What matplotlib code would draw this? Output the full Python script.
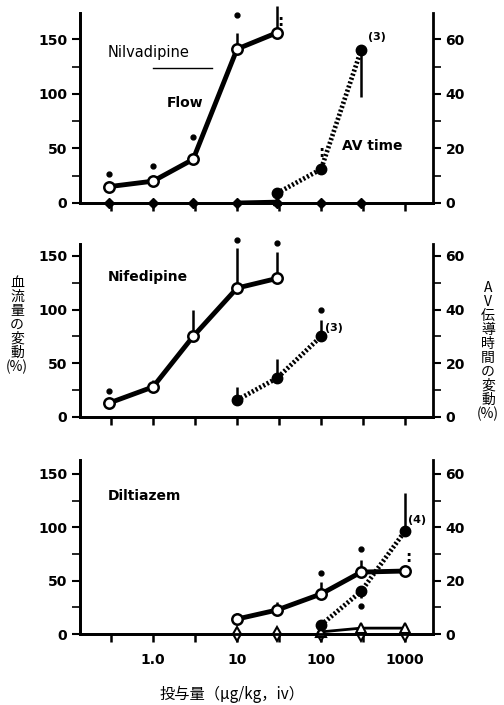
import matplotlib
matplotlib.use("Agg")
import matplotlib.pyplot as plt
from matplotlib.ticker import FixedLocator
import numpy as np

# ---------------- data ----------------
# dose ticks (half-decades) and labels
dose_ticks = [0.316, 1, 3.16, 10, 31.6, 100, 316, 1000]
dose_labels = ["", "1.0", "", "10", "", "100", "", "1000"]

# Panel 1: Nilvadipine
nil_flow_x = [0.3, 1, 3, 10, 30]
nil_flow_y = [15, 20, 40, 141, 156]
nil_flow_err = [0, 0, 0, 15, 24]
nil_flow_sig = [27, 34, 60, 172, np.nan]
nil_av_x = [30, 100, 300]
nil_av_y = [3.6, 12.4, 56]
nil_av_err = [0, 0, -17]
nil_base_x = [0.3, 1, 3, 10, 30, 100, 300]
nil_base_y = [0, 0, 0, 0, 0, 0, 0]
nil_hr_x = [10, 30]
nil_hr_y = [0.8, 1.6]

# Panel 2: Nifedipine
nif_flow_x = [0.3, 1, 3, 10, 30]
nif_flow_y = [13, 28, 75, 120, 129]
nif_flow_err = [0, 6, 25, 37, 25]
nif_flow_sig = [24, np.nan, np.nan, 165, 162]
nif_av_x = [10, 30, 100]
nif_av_y = [6.3, 14.5, 30]
nif_av_err = [4.7, 7.1, 6]
nif_av_sig = [np.nan, np.nan, 40]

# Panel 3: Diltiazem
dil_flow_x = [10, 30, 100, 300, 1000]
dil_flow_y = [14, 22.5, 37.5, 58, 59]
dil_flow_err = [6, 7.5, 11.5, 11, 0]
dil_flow_sig = [np.nan, np.nan, 57, 80, np.nan]
dil_av_x = [100, 300, 1000]
dil_av_y = [3.4, 16, 38.6]
dil_av_err = [0, -2.4, 14.4]
dil_av_sig = [np.nan, 10.4, np.nan]
dil_base_x = [10, 30, 100, 300, 1000]
dil_base_y = [0, 0, 0, 0, 0]
dil_tri_x = [100, 300, 1000]
dil_tri_y = [2, 5.5, 5.5]

left_ticks = [0, 50, 100, 150]
left_minor = [25, 75, 125]
right_ticks = [0, 20, 40, 60]
right_minor = [10, 30, 50]

# ---------------- figure ----------------
plt.rcParams['font.family'] = ['DejaVu Sans']
fig = plt.figure(figsize=(5.04, 7.05), dpi=100)
W, H = 504, 705

def make_axes(y0_px, top_px, ytop):
    ax = fig.add_axes([80 / W, (H - y0_px) / H, (433 - 80) / W, (y0_px - top_px) / H])
    ax.set_xscale('log')
    ax.set_xlim(0.135, 2150)
    ax.set_ylim(0, ytop)
    ax2 = ax.twinx()
    ax2.set_ylim(0, ytop / 2.5)
    for a in (ax, ax2):
        a.spines['top'].set_visible(False)
        for s in ('left', 'right', 'bottom'):
            a.spines[s].set_linewidth(2)
        a.patch.set_visible(False)
    ax.spines['right'].set_visible(False)
    ax.xaxis.set_major_locator(FixedLocator(dose_ticks))
    ax.xaxis.set_minor_locator(FixedLocator([]))
    ax.set_xticklabels(dose_labels)
    ax.tick_params(axis='x', which='major', direction='out', length=6, width=1.8,
                   labelsize=10, pad=8)
    ax.yaxis.set_major_locator(FixedLocator(left_ticks))
    ax.yaxis.set_minor_locator(FixedLocator(left_minor))
    ax.tick_params(axis='y', which='major', length=6, width=1.5, labelsize=10, pad=3)
    ax.tick_params(axis='y', which='minor', length=6, width=1.2)
    ax2.yaxis.set_major_locator(FixedLocator(right_ticks))
    ax2.yaxis.set_minor_locator(FixedLocator(right_minor))
    ax2.tick_params(axis='y', which='major', length=6, width=1.5, labelsize=10, pad=3)
    ax2.tick_params(axis='y', which='minor', length=6, width=1.2)
    for lab in ax.get_xticklabels() + ax.get_yticklabels() + ax2.get_yticklabels():
        lab.set_fontweight('bold')
    return ax, ax2

def flow(ax, x, y, err, sig):
    x = np.array(x); y = np.array(y); err = np.array(err)
    ax.vlines(x, y, y + err, color='black', lw=1.8, zorder=3, clip_on=False)
    ax.plot(x, y, '-', color='black', lw=3.5, marker='o', ms=7.5, mfc='white',
            mec='black', mew=1.8, zorder=4, clip_on=False)
    ax.plot(x, sig, 'o', color='black', ms=3.5, ls='none', zorder=4, clip_on=False)

def av(ax2, x, y, err, sig=None):
    x = np.array(x); y = np.array(y); err = np.array(err)
    ax2.vlines(x, y, y + err, color='black', lw=1.8, zorder=3, clip_on=False)
    ax2.plot(x, y, color='black', lw=3.4, ls=(0, (0.45, 0.45)), zorder=4, clip_on=False)
    ax2.plot(x, y, 'o', color='black', ms=7.5, zorder=5, clip_on=False)
    if sig is not None:
        ax2.plot(x, sig, 'o', color='black', ms=3.5, ls='none', zorder=4, clip_on=False)

def dblstar(ax, x, y):
    ax.text(x, y, ':', fontsize=11, fontweight='bold', ha='center', va='center')

# Panel 1
ax, ax2 = make_axes(203, 13, 174)
ax.tick_params(axis='x', labelbottom=False)
flow(ax, nil_flow_x, nil_flow_y, nil_flow_err, nil_flow_sig)
ax.plot(nil_hr_x, nil_hr_y, '-', color='black', lw=2.2, zorder=3, clip_on=False)
ax.plot(nil_hr_x[-1:], nil_hr_y[-1:], '^', color='black', mfc='white', ms=6, zorder=3, clip_on=False)
ax.plot(nil_base_x, nil_base_y, 'D', color='black', ms=5, ls='none', zorder=3, clip_on=False)
av(ax2, nil_av_x, nil_av_y, nil_av_err)
dblstar(ax, 33, 166)
dblstar(ax, 100, 46)
ax.text(0.29, 138, 'Nilvadipine', fontsize=10.5, ha='left', va='center')
ax.plot([1, 5.0], [123.5, 123.5], color='black', lw=1)
ax.text(1.47, 91.5, 'Flow', fontsize=10, fontweight='bold', ha='left', va='center')
ax.text(178, 52, 'AV time', fontsize=10, fontweight='bold', ha='left', va='center')
ax.text(360, 152, '(3)', fontsize=8, fontweight='bold', ha='left', va='center')

# Panel 2
ax, ax2 = make_axes(417, 244, 161)
ax.tick_params(axis='x', labelbottom=False)
flow(ax, nif_flow_x, nif_flow_y, nif_flow_err, nif_flow_sig)
av(ax2, nif_av_x, nif_av_y, nif_av_err, nif_av_sig)
ax.text(0.29, 130, 'Nifedipine', fontsize=10, fontweight='bold', ha='left', va='center')
ax.text(112, 83, '(3)', fontsize=8, fontweight='bold', ha='left', va='center')

# Panel 3
ax, ax2 = make_axes(634, 460, 163)
flow(ax, dil_flow_x, dil_flow_y, dil_flow_err, dil_flow_sig)
ax.plot(dil_base_x, dil_base_y, '-', color='black', lw=2, marker='d', ms=7,
        mfc='white', mew=1.5, zorder=3, clip_on=False)
ax.plot(dil_tri_x, dil_tri_y, '-', color='black', lw=2, marker='^', ms=7,
        mfc='white', mew=1.5, zorder=3, clip_on=False)
av(ax2, dil_av_x, dil_av_y, dil_av_err, dil_av_sig)
dblstar(ax, 1080, 72)
ax.text(0.29, 129, 'Diltiazem', fontsize=10, fontweight='bold', ha='left', va='center')
ax.text(1090, 107, '(4)', fontsize=8, fontweight='bold', ha='left', va='center')

# axis titles
cjk = ['Noto Sans CJK JP', 'DejaVu Sans']
fig.text(17 / W, 1 - 325 / H, '\n'.join(['血', '流', '量', 'の', '変', '動', '(%)']),
         family=cjk, fontsize=10, ha='center', va='center', linespacing=1.0)
fig.text(488 / W, 1 - 351 / H, '\n'.join(['A', 'V', '伝', '導', '時', '間', 'の', '変', '動', '(%)']),
         family=cjk, fontsize=10, ha='center', va='center', linespacing=1.0)
fig.text(232 / W, 1 - 694 / H, '投与量（μg/kg，iv）', family=cjk, fontsize=11,
         ha='center', va='center')

fig.savefig('out.png', dpi=100)
